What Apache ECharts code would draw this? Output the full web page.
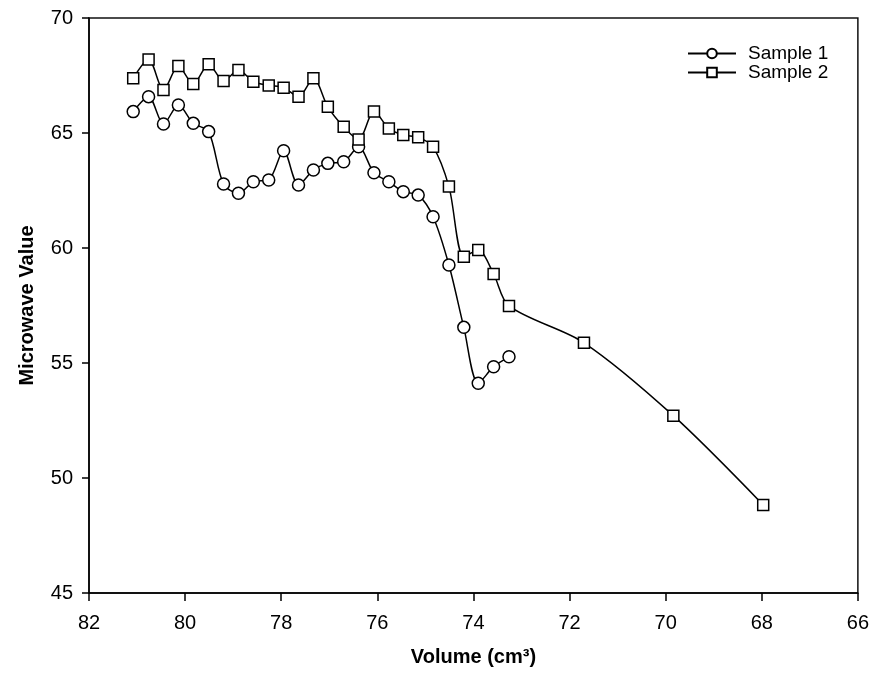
<!DOCTYPE html>
<html>
<head>
<meta charset="utf-8">
<script src="https://cdn.jsdelivr.net/npm/echarts@6/dist/echarts.min.js"></script>
<style>
html,body{margin:0;padding:0;background:#fff;}
#chart{width:872px;height:677px;}
</style>
</head>
<body>
<div id="chart"></div>
<script>
// Volume (cm^3) positions shared by both samples
const volume1 = [81.08, 80.76, 80.45, 80.14, 79.83, 79.51, 79.20, 78.89, 78.58, 78.26,
                 77.95, 77.64, 77.33, 77.03, 76.70, 76.39, 76.07, 75.76, 75.46, 75.15,
                 74.84, 74.51, 74.20, 73.90, 73.58, 73.26];
const value1 = [65.93, 66.58, 65.39, 66.22, 65.42, 65.06, 62.78, 62.38, 62.88, 62.96,
                64.23, 62.74, 63.39, 63.68, 63.75, 64.40, 63.27, 62.88, 62.45, 62.30,
                61.36, 59.26, 56.55, 54.12, 54.84, 55.27];
const volume2 = [81.08, 80.76, 80.45, 80.14, 79.83, 79.51, 79.20, 78.89, 78.58, 78.26,
                 77.95, 77.64, 77.33, 77.03, 76.70, 76.39, 76.07, 75.76, 75.46, 75.15,
                 74.84, 74.51, 74.20, 73.90, 73.58, 73.26, 71.70, 69.84, 67.97];
const value2 = [67.38, 68.20, 66.87, 67.91, 67.13, 67.99, 67.26, 67.74, 67.23, 67.07,
                66.97, 66.58, 67.38, 66.14, 65.27, 64.72, 65.93, 65.20, 64.91, 64.81,
                64.40, 62.67, 59.62, 59.91, 58.87, 57.48, 55.88, 52.71, 48.83];
const seriesNames = ['Sample 1', 'Sample 2'];
const xTitle = 'Volume (cm\u00B3)';
const yTitle = 'Microwave Value';

const FONT = '"Liberation Sans", Arial, sans-serif';
const chart = echarts.init(document.getElementById('chart'), null, {renderer: 'canvas'});

function pairs(xs, ys) { return xs.map((x, i) => [x, ys[i]]); }

const common = {
  type: 'line',
  smooth: 0.3,
  symbolSize: 12,
  lineStyle: {color: '#000', width: 1.5},
  itemStyle: {color: '#fff', borderColor: '#000', borderWidth: 1.5},
  emphasis: {disabled: true},
  animation: false,
  z: 3
};

chart.setOption({
  backgroundColor: '#fff',
  animation: false,
  grid: {left: 89, right: 14, top: 18, bottom: 84, show: true, borderColor: '#111', borderWidth: 1.5, backgroundColor: 'transparent'},
  legend: {
    orient: 'vertical',
    left: 682, top: 39,
    itemWidth: 48, itemHeight: 12, itemGap: 0,
    textStyle: {fontFamily: FONT, fontSize: 19, color: '#000', lineHeight: 18, padding: [0, 0, 0, 7]},
    data: seriesNames
  },
  xAxis: {
    type: 'value', inverse: true, min: 66, max: 82, interval: 2,
    name: xTitle, nameLocation: 'middle', nameGap: 54,
    nameTextStyle: {fontFamily: FONT, fontSize: 20, fontWeight: 'bold', color: '#000'},
    axisLine: {show: true, lineStyle: {color: '#000', width: 1.5}},
    axisTick: {show: true, inside: false, length: 8, lineStyle: {color: '#000', width: 1.5}},
    axisLabel: {fontFamily: FONT, fontSize: 20, color: '#000', margin: 20},
    splitLine: {show: false}
  },
  yAxis: {
    type: 'value', min: 45, max: 70, interval: 5,
    name: yTitle, nameLocation: 'middle', nameGap: 52, nameRotate: 90,
    nameTextStyle: {fontFamily: FONT, fontSize: 20, fontWeight: 'bold', color: '#000'},
    axisLine: {show: true, lineStyle: {color: '#000', width: 1.5}},
    axisTick: {show: true, inside: false, length: 7, lineStyle: {color: '#000', width: 1.5}},
    axisLabel: {fontFamily: FONT, fontSize: 20, color: '#000', margin: 16},
    splitLine: {show: false}
  },
  series: [
    Object.assign({}, common, {name: seriesNames[0], symbol: 'circle', data: pairs(volume1, value1)}),
    Object.assign({}, common, {name: seriesNames[1], symbol: 'rect', symbolSize: 11, data: pairs(volume2, value2)})
  ]
});
</script>
</body>
</html>
